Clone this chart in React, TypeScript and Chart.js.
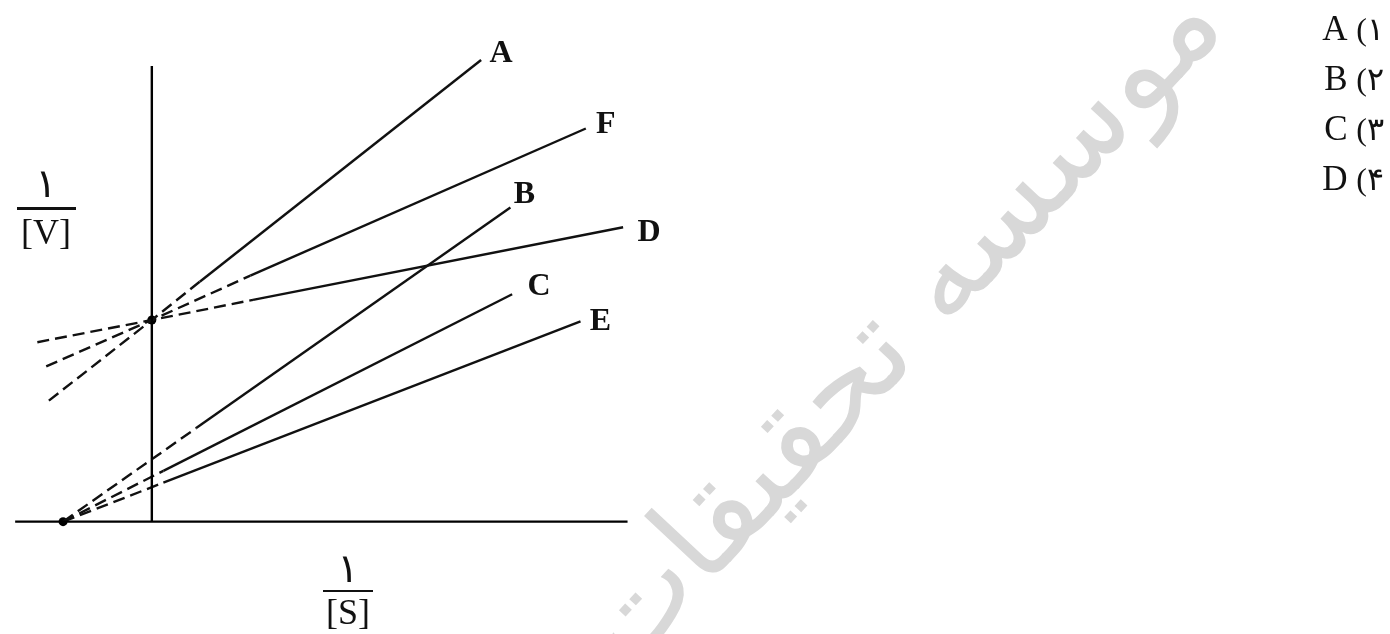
import React, { useEffect, useRef } from "react";
import { Chart, registerables } from "chart.js";

Chart.register(...registerables);

// ---- data (x = 1/[S], y = 1/[V], arbitrary units) ----
const lineLabels = ["A", "F", "D", "B", "C", "E"];

// dashed (extrapolated) parts of each line
const dashedA: [number, number][] = [[-1.16, 0.6], [0, 1], [0.54, 1.19]];
const dashedF: [number, number][] = [[-1.19, 0.77], [0, 1], [1.11, 1.22]];
const dashedD: [number, number][] = [[-1.29, 0.89], [0, 1], [1.14, 1.1]];
const dashedB: [number, number][] = [[-1, 0], [0.5, 0.464]];
const dashedC: [number, number][] = [[-1, 0], [0.13, 0.252]];
const dashedE: [number, number][] = [[-1, 0], [0.13, 0.193]];

// solid (measured) parts of each line
const solidA: [number, number][] = [[0.54, 1.19], [3.71, 2.29]];
const solidF: [number, number][] = [[1.11, 1.22], [4.89, 1.95]];
const solidD: [number, number][] = [[1.14, 1.1], [5.31, 1.46]];
const solidB: [number, number][] = [[0.5, 0.464], [4.04, 1.558]];
const solidC: [number, number][] = [[0.13, 0.252], [4.06, 1.128]];
const solidE: [number, number][] = [[0.13, 0.193], [4.83, 0.993]];

const dashedParts = [dashedA, dashedF, dashedD, dashedB, dashedC, dashedE];
const solidParts = [solidA, solidF, solidD, solidB, solidC, solidE];

const intersectionPoints: [number, number][] = [[0, 1], [-1, 0]];
const xAxisLine: [number, number][] = [[-1.54, 0], [5.36, 0]];
const yAxisLine: [number, number][] = [[0, 0], [0, 2.26]];

const optionNumbers = ["\u06F1", "\u06F2", "\u06F3", "\u06F4"];
const optionLetters = ["A", "B", "C", "D"];
const yTitleTop = "\u06F1";
const yTitleBottom = "[V]";
const xTitleTop = "\u06F1";
const xTitleBottom = "[S]";
const watermarkText = "موسسه تحقیقات";

// ---- styling / layout (not data) ----
const W = 1390;
const H = 634;
const labelOffsets: [number, number][] = [[20, -6], [20, -4], [26, 5], [14, -13], [27, -7], [20, 0]];
const ink = "#111";

const toPts = (arr: [number, number][]) => arr.map(([x, y]) => ({ x, y }));

const endLabelPlugin = {
  id: "endLabels",
  afterDatasetsDraw(chart: any) {
    const { ctx, scales } = chart;
    ctx.save();
    ctx.font = "bold 32px 'Liberation Serif'";
    ctx.fillStyle = ink;
    ctx.textAlign = "center";
    ctx.textBaseline = "middle";
    solidParts.forEach((seg, i) => {
      const end = seg[seg.length - 1];
      const px = scales.x.getPixelForValue(end[0]);
      const py = scales.y.getPixelForValue(end[1]);
      ctx.fillText(lineLabels[i], px + labelOffsets[i][0], py + labelOffsets[i][1]);
    });
    ctx.restore();
  },
};

export default function App() {
  const ref = useRef<HTMLCanvasElement | null>(null);

  useEffect(() => {
    if (!ref.current) return;
    const base = { showLine: true, pointRadius: 0, borderColor: ink, borderWidth: 2.4, tension: 0, borderCapStyle: "butt" as const };
    const chart = new Chart(ref.current, {
      type: "scatter",
      data: {
        datasets: [
          { ...base, data: toPts(xAxisLine), borderColor: "#000" },
          { ...base, data: toPts(yAxisLine), borderColor: "#000" },
          ...dashedParts.map((seg) => ({ ...base, data: toPts(seg), borderDash: [12, 6] })),
          ...solidParts.map((seg) => ({ ...base, data: toPts(seg) })),
          {
            data: toPts(intersectionPoints),
            showLine: false,
            pointRadius: 4.5,
            pointBackgroundColor: "#000",
            pointBorderColor: "#000",
            pointBorderWidth: 0,
          },
        ],
      } as any,
      options: {
        responsive: false,
        animation: false,
        events: [],
        layout: { padding: 0 },
        plugins: { legend: { display: false }, tooltip: { enabled: false } },
        scales: {
          x: { type: "linear", min: -1.66, max: 13.9, display: false },
          y: { type: "linear", min: -0.535, max: 2.565, display: false },
        },
      },
      plugins: [endLabelPlugin],
    });
    return () => chart.destroy();
  }, []);

  const serif = "'Liberation Serif', 'Times New Roman', 'DejaVu Serif', serif";
  const arabic = "'DejaVu Sans', sans-serif";
  const abs = (s: React.CSSProperties): React.CSSProperties => ({ position: "absolute", margin: 0, ...s });

  return (
    <div style={abs({ left: 0, top: 0, width: W, height: H, overflow: "hidden", background: "#fff" })}>
      <div
        dir="rtl"
        style={abs({
          left: 895,
          top: 322,
          transform: "translate(-50%, -50%) rotate(-47deg)",
          whiteSpace: "nowrap",
          fontFamily: arabic,
          fontSize: 124,
          lineHeight: "130px",
          color: "#d8d8d8",
        })}
      >
        {watermarkText}
      </div>

      <canvas ref={ref} width={W} height={H} style={abs({ left: 0, top: 0 })} />

      {/* y-axis title 1/[V] */}
      <div style={abs({ left: 16, width: 60, top: 161, textAlign: "center", fontFamily: arabic, fontSize: 40, lineHeight: "44px", color: ink })}>{yTitleTop}</div>
      <div style={abs({ left: 17, width: 59, top: 207, height: 2.5, background: ink })} />
      <div style={abs({ left: 16, width: 60, top: 214, textAlign: "center", fontFamily: serif, fontSize: 36, lineHeight: "36px", color: ink })}>{yTitleBottom}</div>

      {/* x-axis title 1/[S] */}
      <div style={abs({ left: 318, width: 60, top: 546, textAlign: "center", fontFamily: arabic, fontSize: 40, lineHeight: "44px", color: ink })}>{xTitleTop}</div>
      <div style={abs({ left: 323, width: 50, top: 589.5, height: 2.5, background: ink })} />
      <div style={abs({ left: 318, width: 60, top: 594, textAlign: "center", fontFamily: serif, fontSize: 36, lineHeight: "36px", color: ink })}>{xTitleBottom}</div>

      {/* answer options */}
      <div dir="rtl" style={abs({ left: 1200, width: 184, top: 4, fontFamily: serif, fontSize: 35, lineHeight: "50px", color: ink, textAlign: "right" })}>
        {optionLetters.map((letter, i) => (
          <div key={letter}>
            <span style={{ fontSize: 32 }}>{optionNumbers[i]})</span> {letter}
          </div>
        ))}
      </div>
    </div>
  );
}
